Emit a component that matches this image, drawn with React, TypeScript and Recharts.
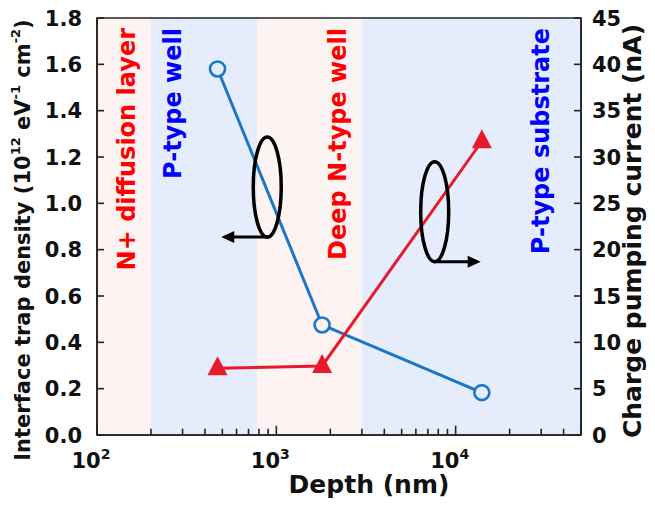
import React from "react";
import {
  ComposedChart,
  Line,
  XAxis,
  YAxis,
  ReferenceArea,
  ReferenceLine,
  ReferenceDot,
  Label,
} from "recharts";

const FONT = "'DejaVu Sans', Verdana, sans-serif";
const BLUE = "#1b76c6";
const RED = "#e8192a";
const PINK_BG = "#fef3f3";
const BLUE_BG = "#e5edfc";
const AXIS = "#222";

// depth (nm) vs. interface trap density (left axis)
const trapDepth = [470, 1800, 14000];
const trapDensity = [1.58, 0.475, 0.183];

// depth (nm) vs. charge pumping current (right axis)
const cpDepth = [470, 1800, 14000];
const cpCurrent = [7.2, 7.45, 31.7];

const xTicks = [
  100, 200, 300, 400, 500, 600, 700, 800, 900,
  1000, 2000, 3000, 4000, 5000, 6000, 7000, 8000, 9000,
  10000, 20000, 30000, 40000, 50000,
];
const leftTicks = [0, 0.2, 0.4, 0.6, 0.8, 1.0, 1.2, 1.4, 1.6, 1.8];
const rightTicks = [0, 5, 10, 15, 20, 25, 30, 35, 40, 45];

// layer bands along depth
const bandFrom = [100, 200, 780, 3000];
const bandTo = [200, 780, 3000, 50000];
const bandNames = ["N+ diffusion layer", "P-type well", "Deep N-type well", "P-type substrate"];
const bandKind = ["n", "p", "n", "p"];

const bandLabelDx = [30, 22, 81, 179];

// inward tick lengths, in axis units (the bands would cover the axis' own tick lines)
const X_TICK_MAJOR = 0.04;
const X_TICK_MINOR = 0.027;
const Y_TICK_FACTOR = 1.094;

const trapData = trapDepth.map((x, i) => ({ x, y: trapDensity[i] }));
const cpData = cpDepth.map((x, i) => ({ x, y: cpCurrent[i] }));

const isDecade = (v: number) => {
  const e = Math.log10(v);
  return Math.abs(e - Math.round(e)) < 1e-6;
};

function bgAt(x: number) {
  for (let i = 0; i < bandFrom.length; i++) {
    if (x >= bandFrom[i] && x < bandTo[i]) return bandKind[i] === "n" ? PINK_BG : BLUE_BG;
  }
  return "#fff";
}

const XTick = ({ x, y, payload }: any) => {
  const v = payload.value;
  if (!isDecade(v)) return <g />;
  return (
    <text x={x - 6} y={y + 33} textAnchor="middle" fontFamily={FONT} fontWeight="bold" fontSize={21} fill="#111">
      10
      <tspan dy={-9} fontSize={14}>
        {Math.round(Math.log10(v))}
      </tspan>
    </text>
  );
};

const LeftTick = ({ x, y, payload }: any) => (
  <text x={x - 15} y={y + 7.5} textAnchor="end" fontFamily={FONT} fontWeight="bold" fontSize={21} fill="#111">
    {Number(payload.value).toFixed(1)}
  </text>
);

const RightTick = ({ x, y, payload }: any) => (
  <text x={x + 11} y={y + 7.5} textAnchor="start" fontFamily={FONT} fontWeight="bold" fontSize={21} fill="#111">
    {payload.value}
  </text>
);

const BandLabel = ({ viewBox, text, color, dx }: any) => {
  const tx = viewBox.x + dx;
  const ty = viewBox.y + 10;
  return (
    <text
      x={tx}
      y={ty}
      transform={`rotate(-90 ${tx} ${ty})`}
      textAnchor="end"
      dominantBaseline="central"
      fontFamily={FONT}
      fontWeight="bold"
      fontSize={24}
      fill={color}
    >
      {text}
    </text>
  );
};

const OpenCircle = (p: any) => (
  <circle
    key={`c${p.index}`}
    cx={p.cx}
    cy={p.cy}
    r={7.5}
    fill={bgAt(p.payload.x)}
    stroke={BLUE}
    strokeWidth={2.6}
  />
);

const Triangle = (p: any) => (
  <polygon
    key={`t${p.index}`}
    points={`${p.cx},${p.cy - 12} ${p.cx - 10},${p.cy + 7} ${p.cx + 10},${p.cy + 7}`}
    fill={RED}
  />
);

// ellipse grouping a curve, with an arrow pointing at its axis
const AxisMarker = ({ cx, cy, dir }: any) => {
  const ay = cy + 50;
  const ex = cx + dir * 46;
  return (
    <g>
      <ellipse cx={cx} cy={cy} rx={14} ry={50} fill="none" stroke="#000" strokeWidth={3.5} />
      <line x1={cx} x2={ex - dir * 10} y1={ay} y2={ay} stroke="#000" strokeWidth={3} />
      <polygon points={`${ex},${ay} ${ex - dir * 13},${ay - 6} ${ex - dir * 13},${ay + 6}`} fill="#000" />
    </g>
  );
};

const AxisTitle = ({ viewBox, text, dx, cy, size }: any) => {
  const tx = viewBox.x + dx;
  return (
    <text
      x={tx}
      y={cy}
      transform={`rotate(-90 ${tx} ${cy})`}
      textAnchor="middle"
      dominantBaseline="central"
      fontFamily={FONT}
      fontWeight="bold"
      fontSize={size}
      fill="#111"
    >
      {text}
    </text>
  );
};

const LeftTitle = ({ viewBox }: any) => {
  const tx = viewBox.x - 14;
  const cy = 240;
  return (
    <text
      x={tx}
      y={cy}
      transform={`rotate(-90 ${tx} ${cy})`}
      textAnchor="middle"
      dominantBaseline="central"
      fontFamily={FONT}
      fontWeight="bold"
      fontSize={21}
      fill="#111"
    >
      Interface trap density (10
      <tspan dy={-8} fontSize={13}>12</tspan>
      <tspan dy={8}> eV</tspan>
      <tspan dy={-8} fontSize={13}>-1</tspan>
      <tspan dy={8}> cm</tspan>
      <tspan dy={-8} fontSize={13}>-2</tspan>
      <tspan dy={8}>)</tspan>
    </text>
  );
};

export default function App() {
  return (
    <div style={{ position: "absolute", left: 0, top: 0, background: "#fff" }}>
      <ComposedChart width={655} height={505} margin={{ top: 18, right: 24, bottom: 30, left: 37 }}>
        {bandFrom.map((from, i) => (
          <ReferenceArea
            key={bandNames[i]}
            yAxisId="left"
            x1={from}
            x2={bandTo[i]}
            y1={0}
            y2={1.8}
            fill={bandKind[i] === "n" ? PINK_BG : BLUE_BG}
            fillOpacity={1}
            stroke="none"
            ifOverflow="visible"
            label={<BandLabel text={bandNames[i]} color={bandKind[i] === "n" ? "#ff0000" : "#0000ff"} dx={bandLabelDx[i]} />}
          />
        ))}
        <XAxis
          dataKey="x"
          type="number"
          scale="log"
          domain={[100, 50000]}
          ticks={xTicks}
          interval={0}
          allowDataOverflow
          height={40}
          tickSize={0}
          tickMargin={0}
          tickLine={false}
          axisLine={{ stroke: AXIS, strokeWidth: 1.6 }}
          tick={<XTick />}
        >
          <Label
            content={() => (
              <text x={369} y={493} textAnchor="middle" fontFamily={FONT} fontWeight="bold" fontSize={25} fill="#111">
                Depth (nm)
              </text>
            )}
          />
        </XAxis>
        <YAxis
          yAxisId="left"
          domain={[0, 1.8]}
          ticks={leftTicks}
          interval={0}
          width={60}
          tickSize={0}
          tickMargin={0}
          tickLine={false}
          axisLine={{ stroke: AXIS, strokeWidth: 1.6 }}
          tick={<LeftTick />}
          label={<LeftTitle />}
        />
        <YAxis
          yAxisId="right"
          orientation="right"
          domain={[0, 45]}
          ticks={rightTicks}
          interval={0}
          width={50}
          tickSize={0}
          tickMargin={0}
          tickLine={false}
          axisLine={{ stroke: AXIS, strokeWidth: 1.6 }}
          tick={<RightTick />}
          label={<AxisTitle text="Charge pumping current (nA)" dx={51} cy={231} size={25} />}
        />
        {/* inward tick marks, drawn over the bands */}
        {xTicks.map((v) => (
          <ReferenceLine
            key={`xt${v}`}
            yAxisId="left"
            segment={[{ x: v, y: 0 }, { x: v, y: isDecade(v) ? X_TICK_MAJOR : X_TICK_MINOR }]}
            stroke={AXIS}
            strokeWidth={1.6}
            ifOverflow="visible"
          />
        ))}
        {leftTicks.map((t) => (
          <ReferenceLine
            key={`lt${t}`}
            yAxisId="left"
            segment={[{ x: 100, y: t }, { x: 100 * Y_TICK_FACTOR, y: t }]}
            stroke={AXIS}
            strokeWidth={1.6}
            ifOverflow="visible"
          />
        ))}
        {rightTicks.map((t) => (
          <ReferenceLine
            key={`rt${t}`}
            yAxisId="right"
            segment={[{ x: 50000 / Y_TICK_FACTOR, y: t }, { x: 50000, y: t }]}
            stroke={AXIS}
            strokeWidth={1.6}
            ifOverflow="visible"
          />
        ))}
        <ReferenceArea
          yAxisId="left"
          x1={100}
          x2={50000}
          y1={0}
          y2={1.8}
          fill="none"
          stroke={AXIS}
          strokeWidth={1.6}
          ifOverflow="visible"
        />
        <Line
          data={trapData}
          yAxisId="left"
          dataKey="y"
          stroke={BLUE}
          strokeWidth={3}
          dot={OpenCircle}
          activeDot={false}
          isAnimationActive={false}
        />
        <Line
          data={cpData}
          yAxisId="right"
          dataKey="y"
          stroke={RED}
          strokeWidth={3}
          dot={Triangle}
          activeDot={false}
          isAnimationActive={false}
        />
        <ReferenceDot
          yAxisId="left"
          x={890}
          y={1.07}
          shape={(p: any) => <AxisMarker cx={p.cx} cy={p.cy} dir={-1} />}
        />
        <ReferenceDot
          yAxisId="right"
          x={7640}
          y={24.1}
          shape={(p: any) => <AxisMarker cx={p.cx} cy={p.cy} dir={1} />}
        />
      </ComposedChart>
    </div>
  );
}
